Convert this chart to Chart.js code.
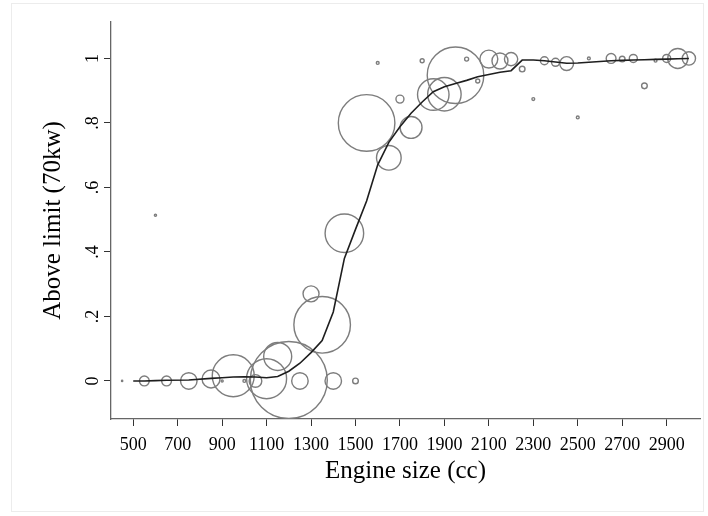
<!DOCTYPE html>
<html>
<head>
<meta charset="utf-8">
<script src="https://cdn.jsdelivr.net/npm/chart.js@4"></script>
<style>
  html, body { margin: 0; padding: 0; background: #fff; }
  canvas { display: block; }
</style>
</head>
<body>
<canvas id="chart" width="708" height="516"></canvas>
<script>
// engine size groups (cc), share above the 70kw limit, number of cars in group
const engineSize = [450, 550, 600, 650, 750, 850, 900, 950, 1000, 1050, 1100, 1150, 1200, 1250,
  1300, 1350, 1400, 1450, 1500, 1550, 1600, 1650, 1700, 1750, 1800, 1850, 1900, 1950, 2000,
  2050, 2100, 2150, 2200, 2250, 2300, 2350, 2400, 2450, 2500, 2550, 2650, 2700, 2750, 2800,
  2850, 2900, 2950, 3000];
const shareAbove = [0, 0, 0.514, 0, 0, 0.006, 0, 0.016, 0, 0, 0.007, 0.076, 0.003, 0,
  0.27, 0.174, 0, 0.458, 0, 0.80, 0.986, 0.692, 0.874, 0.786, 0.993, 0.888, 0.889, 0.948, 0.998,
  0.93, 0.998, 0.992, 0.998, 0.967, 0.874, 0.993, 0.988, 0.984, 0.817, 1, 1, 0.998, 1, 0.915,
  0.993, 1, 1, 1];
const carCount = [0.1, 6, 0.3, 6, 17, 20, 0.3, 110, 0.5, 10, 100, 49, 370, 17,
  16, 200, 17, 93, 2, 200, 0.5, 38, 4, 30, 1, 62, 70, 200, 1,
  1, 20, 16, 11, 2, 0.5, 4, 4, 12, 0.5, 0.5, 6, 2, 4, 2,
  0.5, 4, 25, 11];

// lowess smooth
const smoothX = [500, 550, 600, 650, 750, 850, 900, 950, 1000, 1050, 1100, 1150, 1200, 1250,
  1300, 1350, 1400, 1450, 1500, 1550, 1600, 1650, 1700, 1750, 1800, 1850, 1900, 1950, 2000,
  2050, 2100, 2150, 2200, 2250, 2300, 2350, 2400, 2450, 2500, 2550, 2650, 2700, 2750, 2800,
  2850, 2900, 2950, 3000];
const smoothY = [0, 0, 0.001, 0.002, 0.003, 0.008, 0.01, 0.012, 0.013, 0.012, 0.01, 0.014, 0.03, 0.055,
  0.088, 0.125, 0.214, 0.38, 0.47, 0.558, 0.67, 0.74, 0.788, 0.83, 0.865, 0.897, 0.912, 0.922, 0.932,
  0.943, 0.95, 0.957, 0.962, 0.995, 0.995, 0.993, 0.989, 0.985, 0.986, 0.988, 0.993, 0.994, 0.995, 0.996,
  0.997, 0.998, 0.999, 1];

const xTicks = [500, 700, 900, 1100, 1300, 1500, 1700, 1900, 2100, 2300, 2500, 2700, 2900];
const yTicks = [0, 0.2, 0.4, 0.6, 0.8, 1];
const yTickLabels = ['0', '.2', '.4', '.6', '.8', '1'];

const serif = "'Liberation Serif', 'Times New Roman', serif";

const bubbles = engineSize.map((x, i) => ({ x: x, y: shareAbove[i], r: 2 * Math.sqrt(carCount[i]) }));
const smooth = smoothX.map((x, i) => ({ x: x, y: smoothY[i] }));

// white background + faint outer frame
const backdrop = {
  id: 'backdrop',
  beforeDraw(chart) {
    const ctx = chart.ctx;
    ctx.save();
    ctx.fillStyle = '#fff';
    ctx.fillRect(0, 0, chart.width, chart.height);
    ctx.strokeStyle = '#ececec';
    ctx.lineWidth = 1;
    ctx.strokeRect(11.5, 3.5, chart.width - 16, chart.height - 8);
    ctx.restore();
  }
};

// y tick labels are rotated like the title, chart.js can't rotate vertical ticks
const yLabels = {
  id: 'yLabels',
  afterDraw(chart) {
    const ctx = chart.ctx;
    const y = chart.scales.y;
    ctx.save();
    ctx.fillStyle = '#000';
    ctx.font = '18px ' + serif;
    ctx.textAlign = 'center';
    ctx.textBaseline = 'middle';
    yTicks.forEach((v, i) => {
      ctx.save();
      ctx.translate(y.right - 18, y.getPixelForValue(v));
      ctx.rotate(-Math.PI / 2);
      ctx.fillText(yTickLabels[i], 0, 0);
      ctx.restore();
    });
    ctx.restore();
  }
};

new Chart(document.getElementById('chart'), {
  type: 'bubble',
  data: {
    datasets: [
      {
        type: 'line',
        data: smooth,
        borderColor: '#1e1e1e',
        borderWidth: 1.6,
        pointRadius: 0,
        tension: 0,
        fill: false,
        order: 0
      },
      {
        data: bubbles,
        backgroundColor: 'rgba(0,0,0,0)',
        borderColor: 'rgb(125,125,125)',
        borderWidth: 1.4,
        order: 1
      }
    ]
  },
  options: {
    responsive: false,
    animation: false,
    devicePixelRatio: 1,
    layout: { autoPadding: false, padding: { left: 0, right: 8, top: 22, bottom: 0 } },
    plugins: { legend: { display: false }, tooltip: { enabled: false } },
    scales: {
      x: {
        type: 'linear',
        min: 400,
        max: 3050,
        afterBuildTicks: (s) => { s.ticks = xTicks.map(v => ({ value: v })); },
        afterFit: (s) => {
          s.height = 97;
          s.paddingLeft = 0;
          s.paddingRight = 0;
        },
        grid: { drawOnChartArea: false, drawTicks: true, tickLength: 7, color: '#333', lineWidth: 1 },
        border: { display: true, color: '#666', width: 1.3 },
        ticks: {
          color: '#000',
          font: { family: serif, size: 18 },
          padding: 8,
          maxRotation: 0,
          autoSkip: false,
          callback: (v) => String(v)
        },
        title: {
          display: true,
          text: 'Engine size (cc)',
          color: '#000',
          font: { family: serif, size: 25 },
          padding: { top: 0, bottom: 30 }
        }
      },
      y: {
        type: 'linear',
        min: -0.118,
        max: 1.113,
        afterBuildTicks: (s) => { s.ticks = yTicks.map(v => ({ value: v })); },
        afterFit: (s) => {
          s.width = 111;
          s.paddingTop = 0;
          s.paddingBottom = 0;
        },
        grid: { drawOnChartArea: false, drawTicks: true, tickLength: 7, color: '#333', lineWidth: 1 },
        border: { display: true, color: '#666', width: 1.3 },
        ticks: { display: false },
        title: {
          display: true,
          text: 'Above limit (70kw)',
          color: '#000',
          font: { family: serif, size: 25 },
          padding: { top: 38, bottom: 0 }
        }
      }
    }
  },
  plugins: [backdrop, yLabels]
});
</script>
</body>
</html>
